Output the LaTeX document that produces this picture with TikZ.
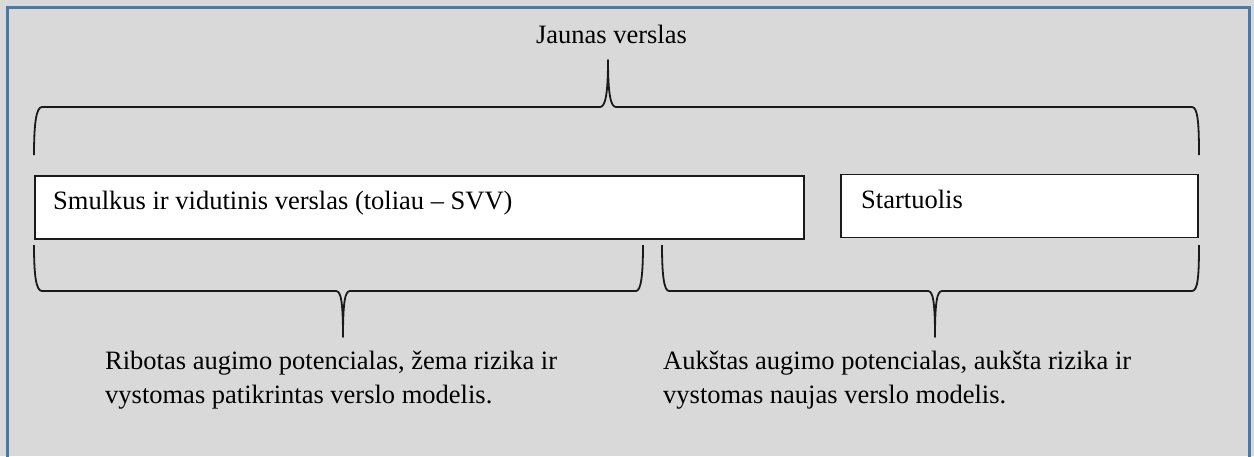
\documentclass[tikz,border=0pt]{standalone}
\usepackage{fontspec}
\setmainfont{Liberation Serif}
\definecolor{panelgray}{HTML}{D9D9D9}
\definecolor{panelblue}{HTML}{4A78A8}
\definecolor{ink}{HTML}{1A1A1A}
\begin{document}
\begin{tikzpicture}[x=1pt,y=-1pt,
  label text/.style={inner sep=0pt, text=black, font=\fontsize{26.5}{34}\selectfont},
  item box/.style={draw=ink, line width=1.6pt, fill=white, inner sep=0pt},
  brace line/.style={draw=ink, line width=1.8pt, line join=round}]
\useasboundingbox (0,0) rectangle (1254,456);
% background panel
\fill[panelgray] (0,0) rectangle (1254,456);
\draw[panelblue, line width=2.6pt] (7.5,7.5) rectangle (1249.5,470);

% title
\node[label text, anchor=base] (title) at (611.5,43) {Jaunas verslas};

% category boxes
\node[item box, minimum width=769pt, minimum height=63pt, anchor=north west] (svv) at (34,175) {};
\node[label text, anchor=base west] (svvtext) at (53,209) {Smulkus ir vidutinis verslas (toliau – SVV)};
\node[item box, minimum width=357pt, minimum height=63pt, anchor=north west] (start) at (840,173.5) {};
\node[label text, anchor=base west] (starttext) at (861,208) {Startuolis};

% upper brace
\draw[brace line] (34,155) .. controls (34,125) and (36,107) .. (42,107)
  -- (600,107) .. controls (605,107) and (608,96) .. (608,60)
  .. controls (608,96) and (611,107) .. (616,107)
  -- (1192,107) .. controls (1198,107) and (1199,125) .. (1199,155);

% lower left brace
\draw[brace line] (34,245) .. controls (34,275) and (36,291) .. (42,291)
  -- (336,291) .. controls (341,291) and (343,302) .. (343,337)
  .. controls (343,302) and (345,291) .. (350,291)
  -- (636,291) .. controls (641,291) and (643,275) .. (643,245);

% lower right brace
\draw[brace line] (662,245) .. controls (662,275) and (664,291) .. (669,291)
  -- (928,291) .. controls (933,291) and (935,302) .. (935,337)
  .. controls (935,302) and (937,291) .. (942,291)
  -- (1192,291) .. controls (1198,291) and (1199,275) .. (1199,245);

% descriptions (anchored at the baseline of their second line)
\node[label text, anchor=base west, align=left] (limited) at (105,403)
  {Ribotas augimo potencialas, žema rizika ir\\vystomas patikrintas verslo modelis.};
\node[label text, anchor=base west, align=left] (high) at (663,403)
  {Aukštas augimo potencialas, aukšta rizika ir\\vystomas naujas verslo modelis.};
\end{tikzpicture}
\end{document}
